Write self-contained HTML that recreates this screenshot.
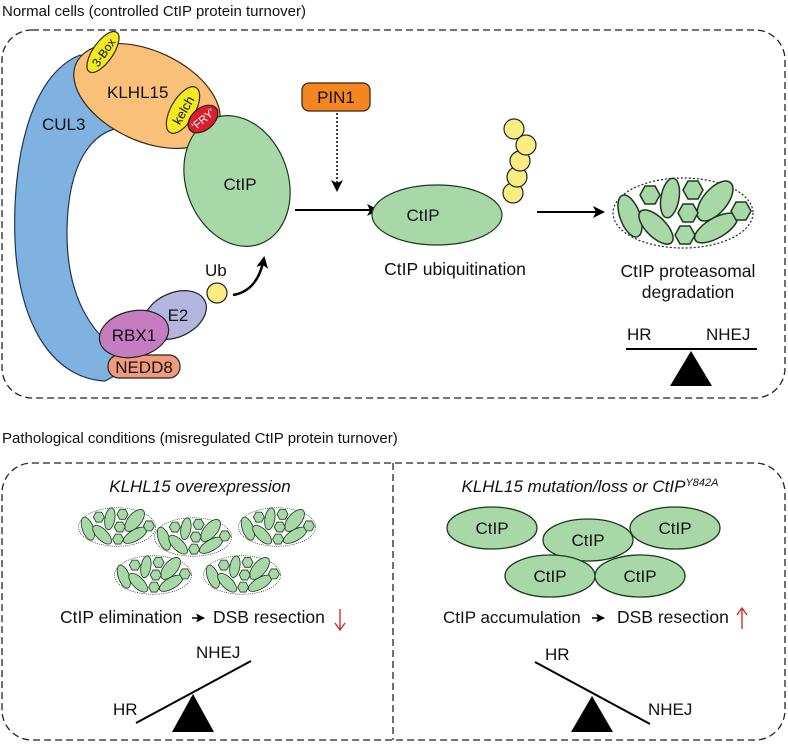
<!DOCTYPE html>
<html><head><style>body{margin:0;background:#fff}svg{display:block}text{font-family:"Liberation Sans",sans-serif;fill:#111}</style></head>
<body>
<svg width="788" height="745" viewBox="0 0 788 745" xmlns="http://www.w3.org/2000/svg">
<defs>
<marker id="ah" markerWidth="12" markerHeight="12" refX="10" refY="6" orient="auto" markerUnits="userSpaceOnUse"><path d="M0,0 L12,6 L0,12 L3,6 Z" fill="#000"/></marker>
<marker id="ahs" markerWidth="9" markerHeight="9" refX="8" refY="4.5" orient="auto" markerUnits="userSpaceOnUse"><path d="M0,0 L9,4.5 L0,9 L2,4.5 Z" fill="#000"/></marker>
<g id="hex"><polygon points="-5,-9 5,-9 10,0 5,9 -5,9 -10,0"/></g>
<g id="prot">
<ellipse cx="0" cy="0" rx="70" ry="35" fill="#fff" stroke="#222" stroke-width="1.2" stroke-dasharray="2,2"/>
<g fill="#a8d8a8" stroke="#1b3a1b" stroke-width="1.5">
<ellipse cx="-53" cy="3" rx="10" ry="22" transform="rotate(-20 -53 3)"/>
<ellipse cx="-27" cy="14" rx="10" ry="22" transform="rotate(-45 -27 14)"/>
<ellipse cx="-13" cy="-15" rx="9" ry="20" transform="rotate(10 -13 -15)"/>
<ellipse cx="32" cy="-12" rx="12" ry="24" transform="rotate(40 32 -12)"/>
<ellipse cx="33" cy="15" rx="10" ry="24" transform="rotate(60 33 15)"/>
<use href="#hex" transform="translate(-33,-18)"/>
<use href="#hex" transform="translate(10,-23)"/>
<use href="#hex" transform="translate(5,0)"/>
<use href="#hex" transform="translate(2,22)"/>
<use href="#hex" transform="translate(58,-2)"/>
</g></g>
<g id="ct"><ellipse cx="0" cy="0" rx="45" ry="21" fill="#a8d8a8" stroke="#1b3a1b" stroke-width="1.3"/><text x="0" y="6" font-size="17" text-anchor="middle">CtIP</text></g>
</defs>
<text x="2" y="16" font-size="15">Normal cells (controlled CtIP protein turnover)</text>
<rect x="2" y="30" width="783" height="368" rx="30" fill="none" stroke="#222" stroke-width="1.3" stroke-dasharray="7,4"/>
<path d="M80,55 C30,75 12,160 15,240 C18,320 50,378 105,381 L140,362 C95,345 66,300 67,230 C68,165 90,130 125,127 L120,70 Z" fill="#7fb2e0" stroke="#1f3550" stroke-width="1.2"/>
<text x="42" y="130" font-size="17">CUL3</text>
<ellipse cx="147" cy="96" rx="78" ry="45" transform="rotate(25 147 96)" fill="#f9c07a" stroke="#3a2a10" stroke-width="1.2"/>
<ellipse cx="103" cy="52" rx="24" ry="10" transform="rotate(-55 103 52)" fill="#f5ea20" stroke="#3a2a10" stroke-width="1.2"/>
<text x="103" y="57" font-size="12" text-anchor="middle" transform="rotate(-55 103 52)">3-Box</text>
<text x="107" y="98" font-size="17">KLHL15</text>
<ellipse cx="237" cy="181" rx="51" ry="67" transform="rotate(-20 237 181)" fill="#a8d8a8" stroke="#1b3a1b" stroke-width="1.2"/>
<text x="240" y="190" font-size="17" text-anchor="middle">CtIP</text>
<ellipse cx="183" cy="110" rx="26" ry="12" transform="rotate(-60 183 110)" fill="#f5ea20" stroke="#3a2a10" stroke-width="1.2"/>
<text x="183" y="115" font-size="13" text-anchor="middle" transform="rotate(-60 183 110)">kelch</text>
<ellipse cx="203" cy="119" rx="17" ry="11" transform="rotate(-40 203 119)" fill="#d8202e" stroke="#3a1010" stroke-width="1.2"/>
<text x="203" y="123" font-size="11" text-anchor="middle" style="fill:#fff" transform="rotate(-40 203 119)">'FRY'</text>
<ellipse cx="175" cy="315" rx="33" ry="22" transform="rotate(-25 175 315)" fill="#b5b6e0" stroke="#222" stroke-width="1.2"/>
<text x="178" y="321" font-size="17" text-anchor="middle">E2</text>
<rect x="108" y="355" width="72" height="23" rx="11" fill="#f29a7c" stroke="#222" stroke-width="1.2"/>
<text x="144" y="373" font-size="17" text-anchor="middle">NEDD8</text>
<ellipse cx="134" cy="334" rx="35" ry="23" transform="rotate(-12 134 334)" fill="#c57cc0" stroke="#222" stroke-width="1.2"/>
<text x="134" y="341" font-size="17" text-anchor="middle">RBX1</text>
<circle cx="217" cy="293" r="10" fill="#f9ec80" stroke="#222" stroke-width="1.2"/>
<text x="205" y="276" font-size="17">Ub</text>
<path d="M233,295 C250,292 260,280 264,258" fill="none" stroke="#000" stroke-width="2.5" marker-end="url(#ah)"/>
<rect x="302" y="83" width="68" height="28" rx="7" fill="#f4861f" stroke="#3a2010" stroke-width="1.2"/>
<text x="336" y="103" font-size="17" text-anchor="middle">PIN1</text>
<line x1="337" y1="113" x2="337" y2="190" stroke="#000" stroke-width="1.5" stroke-dasharray="2,2" marker-end="url(#ah)"/>
<line x1="295" y1="210" x2="377" y2="210" stroke="#000" stroke-width="2" marker-end="url(#ah)"/>
<ellipse cx="437" cy="215" rx="65" ry="30" fill="#a8d8a8" stroke="#1b3a1b" stroke-width="1.2"/>
<text x="423" y="221" font-size="17" text-anchor="middle">CtIP</text>
<g fill="#f9ec80" stroke="#222" stroke-width="1.2">
<circle cx="513" cy="193" r="10"/><circle cx="517" cy="177" r="10"/><circle cx="520" cy="161" r="10"/><circle cx="526" cy="145" r="10"/><circle cx="514" cy="129" r="10"/></g>
<text x="455" y="275" font-size="17.5" text-anchor="middle">CtIP ubiquitination</text>
<line x1="537" y1="212" x2="603" y2="212" stroke="#000" stroke-width="2" marker-end="url(#ah)"/>
<use href="#prot" transform="translate(683,213)"/>
<text x="688" y="277" font-size="17.5" text-anchor="middle">CtIP proteasomal</text>
<text x="688" y="298" font-size="17.5" text-anchor="middle">degradation</text>
<text x="627" y="340" font-size="17">HR</text>
<text x="706" y="340" font-size="17">NHEJ</text>
<line x1="626" y1="349" x2="757" y2="349" stroke="#000" stroke-width="2"/>
<polygon points="691,351 670,386 712,386" fill="#000"/>
<text x="2" y="443" font-size="15">Pathological conditions (misregulated CtIP protein turnover)</text>
<rect x="2" y="463" width="783" height="277" rx="30" fill="none" stroke="#222" stroke-width="1.3" stroke-dasharray="7,4"/>
<line x1="393" y1="463" x2="393" y2="740" stroke="#222" stroke-width="1.3" stroke-dasharray="7,4"/>
<text x="200" y="492" font-size="17" font-style="italic" text-anchor="middle">KLHL15 overexpression</text>
<use href="#prot" transform="translate(117,527) scale(0.55)"/>
<use href="#prot" transform="translate(193,537) scale(0.55)"/>
<use href="#prot" transform="translate(277,527) scale(0.55)"/>
<use href="#prot" transform="translate(153,575) scale(0.55)"/>
<use href="#prot" transform="translate(242,575) scale(0.55)"/>
<text x="60" y="623" font-size="17.5">CtIP elimination</text>
<line x1="192" y1="618" x2="204" y2="618" stroke="#000" stroke-width="1.5" marker-end="url(#ahs)"/>
<text x="213" y="623" font-size="17.5">DSB resection</text>
<line x1="340" y1="609" x2="340" y2="629" stroke="#d02020" stroke-width="1.3"/>
<polyline points="335,623 340,630 345,623" fill="none" stroke="#d02020" stroke-width="1.3"/>
<text x="196" y="658" font-size="17">NHEJ</text>
<text x="113" y="715" font-size="17">HR</text>
<line x1="136" y1="723" x2="251" y2="661" stroke="#000" stroke-width="2"/>
<polygon points="193,694 172,732 214,732" fill="#000"/>
<text x="590" y="492" font-size="17" font-style="italic" text-anchor="middle">KLHL15 mutation/loss or CtIP<tspan font-size="11" dy="-6">Y842A</tspan></text>
<use href="#ct" transform="translate(492,528)"/>
<use href="#ct" transform="translate(588,540)"/>
<use href="#ct" transform="translate(675,528)"/>
<use href="#ct" transform="translate(550,576)"/>
<use href="#ct" transform="translate(640,576)"/>
<text x="443" y="623" font-size="17">CtIP accumulation</text>
<line x1="592" y1="618" x2="604" y2="618" stroke="#000" stroke-width="1.5" marker-end="url(#ahs)"/>
<text x="617" y="623" font-size="17.5">DSB resection</text>
<line x1="742" y1="609" x2="742" y2="629" stroke="#d02020" stroke-width="1.3"/>
<polyline points="737,615 742,608 747,615" fill="none" stroke="#d02020" stroke-width="1.3"/>
<text x="545" y="660" font-size="17">HR</text>
<text x="648" y="715" font-size="17">NHEJ</text>
<line x1="535" y1="662" x2="650" y2="724" stroke="#000" stroke-width="2"/>
<polygon points="592,696 571,732 613,732" fill="#000"/>
</svg>
</body></html>
